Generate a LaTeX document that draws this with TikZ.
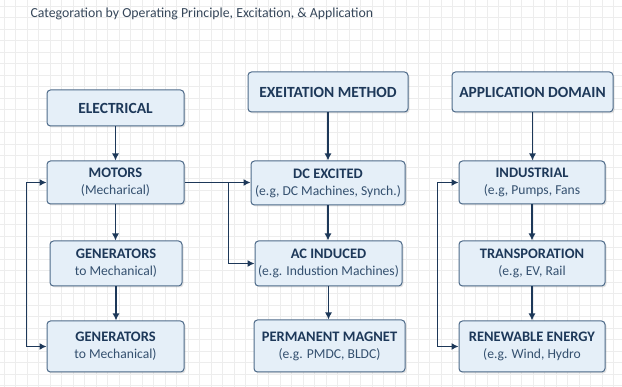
\documentclass[tikz,border=0pt]{standalone}
\usepackage{fontspec}
\setmainfont{Carlito}
\usetikzlibrary{positioning,arrows.meta,shadows}

\definecolor{boxfill}{HTML}{E5EFF8}
\definecolor{boxline}{HTML}{4E6B8A}
\definecolor{navy}{HTML}{1D3859}
\definecolor{subnavy}{HTML}{34506F}
\definecolor{titlegray}{HTML}{36475A}
\definecolor{gridline}{HTML}{EDEDED}

\begin{document}
\begin{tikzpicture}[x=1pt, y=-1pt, >={Latex[length=7pt,width=7pt]},
    box/.style={draw=boxline, fill=boxfill, rounded corners=3.5pt, line width=1pt,
        text=navy, align=center, inner sep=0pt,
        drop shadow={shadow xshift=1.5pt, shadow yshift=-1.5pt, opacity=0.22, fill=gray}},
    head/.style={box, font=\fontsize{15.5}{18}\selectfont\bfseries},
    item/.style={box, font=\fontsize{13.6}{17}\selectfont},
    link/.style={->, draw=navy, line width=1.3pt}]

\useasboundingbox (0,0) rectangle (622,387);
\fill[white] (0,0) rectangle (622,387);
% background grid
\foreach \gx in {4,15.5,...,622} \draw[gridline, line width=0.5pt] (\gx,0) -- (\gx,387);
\foreach \gy in {6,17.5,...,387} \draw[gridline, line width=0.5pt] (0,\gy) -- (622,\gy);

\node[anchor=west, text=titlegray, font=\fontsize{13.8}{16}\selectfont] (title) at (27,14)
    {Categoration by Operating Principle, Excitation, \& Application};

% column heads
\node[head, minimum width=137pt, minimum height=36pt] (elec) at (115.5,108) {ELECTRICAL};
\node[head, minimum width=160pt, minimum height=40pt] (exc) at (328,92) {EXEITATION METHOD};
\node[head, minimum width=161pt, minimum height=40pt] (app) at (532.5,92) {APPLICATION DOMAIN};

% operating principle
\node[item, minimum width=137pt, minimum height=43pt] (motors) at (115.5,182.5)
    {\fontsize{14.5}{17}\selectfont\textbf{MOTORS}\\\color{subnavy}(Mecharical)};
\node[item, minimum width=132pt, minimum height=45pt] (gena) at (116,263.5)
    {\fontsize{14.5}{17}\selectfont\textbf{GENERATORS}\\\color{subnavy}to Mechanical)};
\node[item, minimum width=137pt, minimum height=51pt] (genb) at (115.5,346.5)
    {\fontsize{14.5}{17}\selectfont\textbf{GENERATORS}\\\color{subnavy}to Mechanical)};

% excitation
\node[item, minimum width=154pt, minimum height=44pt] (dc) at (328,183)
    {\fontsize{14.5}{17}\selectfont\textbf{DC EXCITED}\\\color{subnavy}(e.g, DC Machines, Synch.)};
\node[item, minimum width=147pt, minimum height=45pt] (ac) at (328.5,263.5)
    {\fontsize{14.5}{17}\selectfont\textbf{AC INDUCED}\\\color{subnavy}(e.g. Industion Machines)};
\node[item, minimum width=151pt, minimum height=52pt] (pm) at (329.5,346)
    {\fontsize{14.5}{17}\selectfont\textbf{PERMANENT MAGNET}\\\color{subnavy}(e.g. PMDC, BLDC)};

% application
\node[item, minimum width=146pt, minimum height=43pt] (ind) at (532,182.5)
    {\fontsize{14.5}{17}\selectfont\textbf{INDUSTRIAL}\\\color{subnavy}(e.g, Pumps, Fans};
\node[item, minimum width=146pt, minimum height=45pt] (trans) at (532,263.5)
    {\fontsize{14.5}{17}\selectfont\textbf{TRANSPORATION}\\\color{subnavy}(e.g, EV, Rail};
\node[item, minimum width=146pt, minimum height=51pt] (renew) at (532,346.5)
    {\fontsize{14.5}{17}\selectfont\textbf{RENEWABLE ENERGY}\\\color{subnavy}(e.g. Wind, Hydro};

\foreach \a/\b in {elec/motors, motors/gena, gena/genb, exc/dc, dc/ac, ac/pm, app/ind, ind/trans, trans/renew}
    \draw[link] (\a.south) -- (\a.south |- \b.north);

% cross links and loops
\draw[link] (motors.east) -- (motors.east -| dc.west);
\draw[link] ([xshift=44pt]motors.east) |- (ac.west);
\draw[link, <->] (motors.west) -- ++(-20,0) |- (genb.west);
\draw[link, <->] (ind.west) -- ++(-21,0) |- (renew.west);

\end{tikzpicture}
\end{document}
